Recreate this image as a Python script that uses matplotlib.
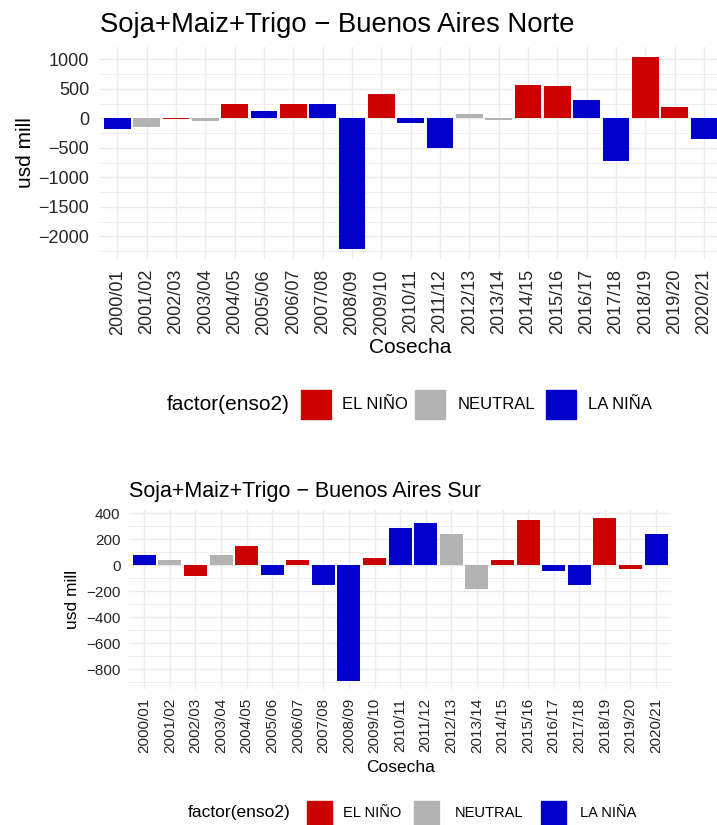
import matplotlib
matplotlib.use("Agg")
import matplotlib.pyplot as plt
from matplotlib.patches import Rectangle
import numpy as np

# ---------------- data ----------------
cosechas = ["2000/01", "2001/02", "2002/03", "2003/04", "2004/05", "2005/06", "2006/07",
            "2007/08", "2008/09", "2009/10", "2010/11", "2011/12", "2012/13", "2013/14",
            "2014/15", "2015/16", "2016/17", "2017/18", "2018/19", "2019/20", "2020/21"]
enso = ["LA NIÑA", "NEUTRAL", "EL NIÑO", "NEUTRAL", "EL NIÑO", "LA NIÑA", "EL NIÑO",
        "LA NIÑA", "LA NIÑA", "EL NIÑO", "LA NIÑA", "LA NIÑA", "NEUTRAL", "NEUTRAL",
        "EL NIÑO", "EL NIÑO", "LA NIÑA", "LA NIÑA", "EL NIÑO", "EL NIÑO", "LA NIÑA"]
norte = [-181, -145, -10, -42, 244, 125, 244, 244, -2215, 414, -80, -500, 74, -28,
         567, 550, 312, -720, 1044, 191, -350]
sur = [80, 41, -82, 80, 150, -73, 41, -150, -892, 56, 288, 326, 242, -180, 41, 349,
       -42, -151, 364, -28, 241]
legend_levels = ["EL NIÑO", "NEUTRAL", "LA NIÑA"]
colors = {"EL NIÑO": "#CD0000", "NEUTRAL": "#B3B3B3", "LA NIÑA": "#0000CD"}

# ---------------- figure ----------------
W, H = 717, 825
plt.rcParams["font.family"] = ["Liberation Sans", "DejaVu Sans"]
fig = plt.figure(figsize=(W / 100, H / 100), dpi=100)
TICK_COLOR = "#262626"


def fx(x):
    return x / W


def fy(y):
    return 1 - y / H


def panel(left, right, top, bottom, vals, title, tfs, tickfs, labfs, major, minor,
          title_base, ylab_x, xlab_y, ypad, xpad):
    ax = fig.add_axes([fx(left), fy(bottom), fx(right - left), (bottom - top) / H])
    x = list(range(len(cosechas)))
    ax.bar(x, vals, width=0.9, color=[colors[e] for e in enso], zorder=2)
    lo, hi = min(min(vals), 0), max(max(vals), 0)
    r = hi - lo
    ylo, yhi = lo - 0.05 * r, hi + 0.05 * r
    ax.set_ylim(ylo, yhi)
    ax.set_xlim(-0.6, len(cosechas) - 0.4)
    yt = np.arange(np.ceil(ylo / major) * major, yhi, major)
    ax.set_yticks(yt)
    ax.set_yticklabels([f"{int(v)}".replace("-", "\u2212") for v in yt])
    ax.set_yticks(np.arange(np.ceil(ylo / minor) * minor, yhi, minor), minor=True)
    ax.set_xticks(x)
    ax.set_xticklabels(cosechas, rotation=90, va="top", ha="center")
    ax.grid(True, which="major", color="#EBEBEB", linewidth=1.0, zorder=0)
    ax.grid(True, which="minor", axis="y", color="#EBEBEB", linewidth=0.6, zorder=0)
    ax.set_axisbelow(True)
    for s in ax.spines.values():
        s.set_visible(False)
    ax.tick_params(axis="both", which="both", length=0, labelsize=tickfs, colors=TICK_COLOR)
    ax.tick_params(axis="y", pad=ypad)
    ax.tick_params(axis="x", pad=xpad)
    ax.set_facecolor("white")
    fig.text(fx(left), fy(title_base), title, fontsize=tfs, ha="left", va="baseline")
    fig.text(fx(ylab_x), fy((top + bottom) / 2), "usd mill", fontsize=labfs, rotation=90,
             ha="center", va="center")
    fig.text(fx((left + right) / 2), fy(xlab_y), "Cosecha", fontsize=labfs,
             ha="center", va="center")
    return ax


def legend(yc, title_x, tfs, lfs, bw, bh, box_x, lab_x):
    fig.text(fx(title_x), fy(yc), "factor(enso2)", fontsize=tfs, ha="left", va="center")
    for lvl, bx, lx in zip(legend_levels, box_x, lab_x):
        fig.patches.append(Rectangle((fx(bx), fy(yc + bh / 2)), bw / W, bh / H,
                                     transform=fig.transFigure, color=colors[lvl]))
        fig.text(fx(lx), fy(yc), lvl, fontsize=lfs, ha="left", va="center")


panel(99.7, 721.6, 47.2, 258.6, norte, "Soja+Maiz+Trigo \u2212 Buenos Aires Norte",
      19.8, 13, 15, 500, 250, 32, 26, 347, 7.5, 7.5)
legend(404, 167, 15, 12, 30, 29, [301, 415, 546], [342, 458, 588])

panel(128.9, 671.4, 509.8, 689.4, sur, "Soja+Maiz+Trigo \u2212 Buenos Aires Sur",
      15.5, 11, 12.5, 200, 100, 497, 72.5, 767, 6, 6)
legend(813, 188, 12.5, 10.5, 25, 24, [307, 414, 541], [343, 455, 580])

fig.savefig("out.png", dpi=100, facecolor="white")
